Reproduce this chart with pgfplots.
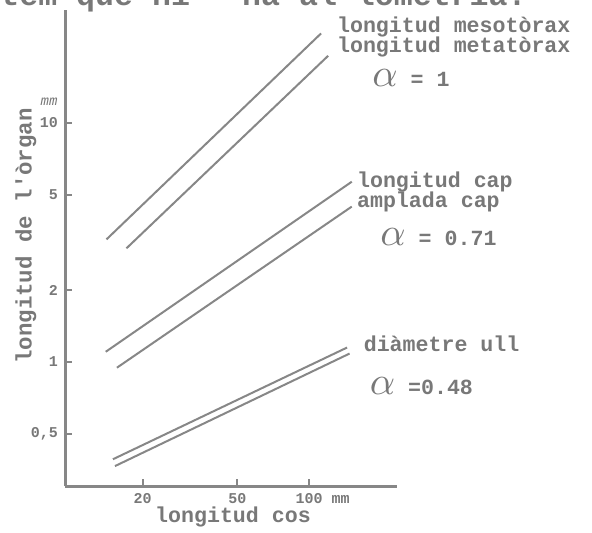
\documentclass[border=0pt]{standalone}
\usepackage{fontspec}
\setmainfont{Liberation Mono}
\usepackage{graphicx}
\usepackage{pgfplots}
\pgfplotsset{compat=1.18}
\definecolor{gc}{RGB}{135,135,135}
\definecolor{tc}{RGB}{120,120,120}
\newcommand{\al}{\smash{\scalebox{1.8}{$\alpha$}}}
\begin{document}
\begin{tikzpicture}[x=1pt,y=1pt]
\begin{axis}[at={(0,0)}, anchor=south west, scale only axis, width=166pt, height=238pt,
 xmode=log, ymode=log, xmin=9.44, xmax=234, ymin=0.303, ymax=29.7,
 axis lines*=left, axis line style={gc, line width=1.5pt},
 xtick={20,50,100}, xticklabels={20,50,{100\rlap{ mm}}},
 ytick={0.5,1,2,5,10}, yticklabels={{0,5},1,2,5,10},
 xminorticks=false, yminorticks=false,
 tick align=inside, major tick length=3.5pt, tick style={gc, line width=1pt},
 ticklabel style={font=\fontsize{7.5}{8}\selectfont\bfseries, text=tc},
 /pgf/number format/assume math mode=true,
 clip=false]
\addplot[gc, line width=1pt] coordinates {(14.1,3.26) (112.3,23.7)};
\addplot[gc, line width=1pt] coordinates {(17.1,2.99) (120.2,19.1)};
\addplot[gc, line width=1pt] coordinates {(14.0,1.104) (151.1,5.68)};
\addplot[gc, line width=1pt] coordinates {(15.6,0.947) (151.1,4.47)};
\addplot[gc, line width=1pt] coordinates {(15.0,0.392) (144.4,1.15)};
\addplot[gc, line width=1pt] coordinates {(15.3,0.367) (147.9,1.085)};
\end{axis}
\begin{scope}[every node/.style={inner sep=0pt, text=tc, font=\fontsize{10.8}{11}\selectfont\bfseries}]
\node[anchor=west] at (135.85,229.3) {longitud mesotòrax};
\node[anchor=west] at (135.85,219.4) {longitud metatòrax};
\node[anchor=west] at (153.5,203.2) {\al\ = 1};
\node[anchor=west] at (145.85,152.15) {longitud cap};
\node[anchor=west] at (145.85,142.15) {amplada cap};
\node[anchor=west] at (157.5,123.85) {\al\ = 0.71};
\node[anchor=west] at (149.2,71) {diàmetre ull};
\node[anchor=west] at (152.2,49.35) {\al\ =0.48};
\node at (84,-15.5) {longitud cos};
\node[rotate=90, font=\fontsize{11.2}{12}\selectfont\bfseries] at (-19.5,125) {longitud de l\textquotesingle òrgan};
\node[font=\fontsize{7}{8}\selectfont\itshape] at (-8,192) {mm};
\node[anchor=base west, font=\fontsize{15.8}{16}\selectfont\bfseries] at (-32.5,240) {tem que hi};
\node[anchor=base east, font=\fontsize{15.8}{16}\selectfont\bfseries] at (231,240) {ha al·lometria.};
\end{scope}
\pgfresetboundingbox
\path[use as bounding box] (-32.5,-23.5) rectangle (263.5,243);
\end{tikzpicture}
\end{document}
